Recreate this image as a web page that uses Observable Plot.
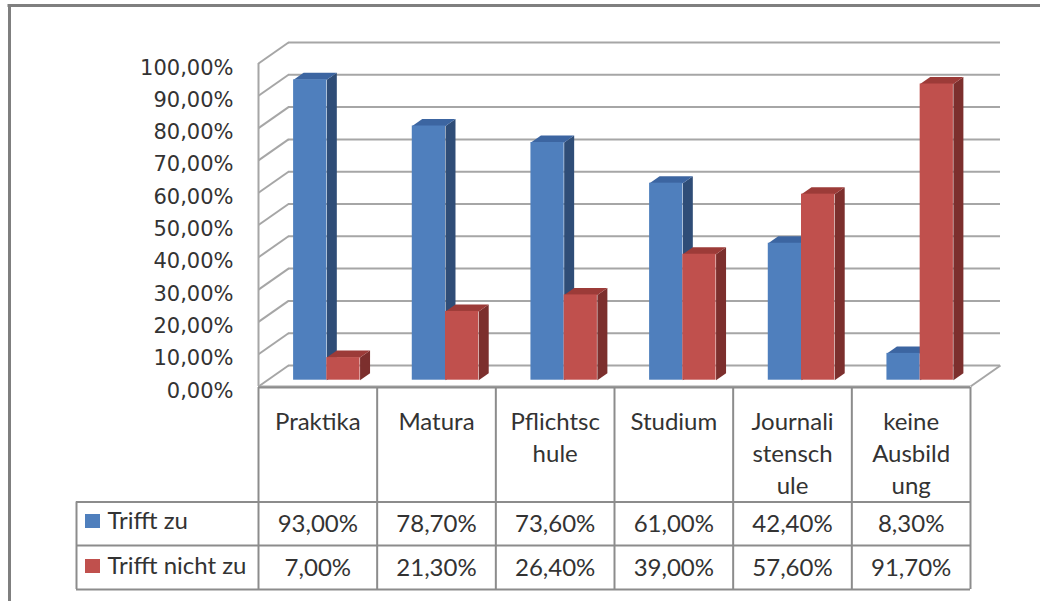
<!DOCTYPE html>
<html>
<head>
<meta charset="utf-8">
<script src="https://cdn.jsdelivr.net/npm/d3@7"></script>
<script src="https://cdn.jsdelivr.net/npm/@observablehq/plot@0.6"></script>
<style>
  html, body { margin: 0; padding: 0; background: #fff; }
  #chart svg { display: block; }
</style>
</head>
<body>
<div id="chart"></div>
<script>
// ---- data ----
const categories = ["Praktika", "Matura", "Pflichtschule", "Studium", "Journalistenschule", "keine Ausbildung"];
const categoryLabels = [["Praktika"], ["Matura"], ["Pflichtsc", "hule"], ["Studium"], ["Journali", "stensch", "ule"], ["keine", "Ausbild", "ung"]];
const seriesNames = ["Trifft zu", "Trifft nicht zu"];
const trifftZu = [93.0, 78.7, 73.6, 61.0, 42.4, 8.3];
const trifftNichtZu = [7.0, 21.3, 26.4, 39.0, 57.6, 91.7];
const yTicks = [0, 10, 20, 30, 40, 50, 60, 70, 80, 90, 100];

// ---- layout ----
const W = 1040, H = 601;
const frontX0 = 258, frontX1 = 970, frontY0 = 386, frontY100 = 63;
const pxPerCat = (frontX1 - frontX0) / categories.length;
const pxPerPct = (frontY0 - frontY100) / 100;
const px2x = px => (px - frontX0) / pxPerCat;
const px2y = px => (frontY0 - px) / pxPerPct;
const DX = 30 / pxPerCat;     // full depth, data units
const DY = 21 / pxPerPct;
const fFront = 0.3, fBack = 0.633; // bar depth planes
const slots = [[0.22, 0.50], [0.50, 0.78]];
const colors = [
  {front: "#4f7fbd", top: "#3c65a1", side: "#2f4d77"},
  {front: "#c0504d", top: "#9c3b38", side: "#7c2f2d"}
];
const fmt = v => v.toFixed(2).replace(".", ",") + "%";
const gridColor = "#a6a6a6";
const tableColor = "#8c8c8c";
const textColor = "#333333";

const series = [trifftZu, trifftNichtZu];

function barRows(s) {
  return series[s].map((v, i) => ({i, v, xl: i + slots[s][0], xr: i + slots[s][1]}));
}
function sidePolys(s) {
  const out = [];
  barRows(s).forEach(b => {
    const id = b.i;
    out.push({id, x: b.xr + fFront * DX, y: fFront * DY});
    out.push({id, x: b.xr + fFront * DX, y: b.v + fFront * DY});
    out.push({id, x: b.xr + fBack * DX, y: b.v + fBack * DY});
    out.push({id, x: b.xr + fBack * DX, y: fBack * DY});
  });
  return out;
}
function topPolys(s) {
  const out = [];
  barRows(s).forEach(b => {
    const id = b.i;
    out.push({id, x: b.xl + fFront * DX, y: b.v + fFront * DY});
    out.push({id, x: b.xr + fFront * DX, y: b.v + fFront * DY});
    out.push({id, x: b.xr + fBack * DX, y: b.v + fBack * DY});
    out.push({id, x: b.xl + fBack * DX, y: b.v + fBack * DY});
  });
  return out;
}

const barMarks = [];
[0, 1].forEach(s => {
  barMarks.push(Plot.line(sidePolys(s), {x: "x", y: "y", z: "id", fill: colors[s].side, stroke: "none", curve: "linear-closed"}));
  barMarks.push(Plot.line(topPolys(s), {x: "x", y: "y", z: "id", fill: colors[s].top, stroke: "none", curve: "linear-closed"}));
  barMarks.push(Plot.rect(barRows(s), {
    x1: d => d.xl + fFront * DX, x2: d => d.xr + fFront * DX,
    y1: fFront * DY, y2: d => d.v + fFront * DY,
    fill: colors[s].front, inset: 0
  }));
});

// header lines
const headerRows = [];
categoryLabels.forEach((lines, i) => lines.forEach((t, k) => headerRows.push({i, k, t})));

const valueRows = [];
series.forEach((arr, s) => arr.forEach((v, i) => valueRows.push({i, s, t: fmt(v)})));

const rowLines = [501.5, 545, 589];
const colBounds = d3.range(categories.length + 1);

const tableFont = "Lato, 'Open Sans', sans-serif";
const tableSize = 24;

const plot = Plot.plot({
  width: W, height: H,
  margin: 0,
  style: {background: "#fff", overflow: "visible"},
  x: {type: "linear", domain: [0, categories.length], range: [frontX0, frontX1], axis: null},
  y: {type: "linear", domain: [0, 100], range: [frontY0, frontY100], axis: null},
  marks: [
    // outer frame (top + left)
    Plot.ruleY([px2y(5)], {x1: px2x(7.5), x2: px2x(W + 5), stroke: "#7f7f7f", strokeWidth: 3}),
    Plot.ruleX([px2x(9)], {y1: px2y(4), y2: px2y(H + 5), stroke: "#7f7f7f", strokeWidth: 3}),
    // back wall gridlines
    Plot.ruleY(yTicks, {y: d => d + DY, x1: DX, x2: categories.length + DX, stroke: gridColor, strokeWidth: 2}),
    // side wall diagonals
    Plot.link(yTicks, {x1: 0, y1: d => d, x2: DX, y2: d => d + DY, stroke: gridColor, strokeWidth: 2}),
    // side wall front edge
    Plot.ruleX([0], {y1: 0, y2: 100, stroke: gridColor, strokeWidth: 2}),
    // floor front edge + right edge
    Plot.ruleY([0], {x1: 0, x2: categories.length, stroke: gridColor, strokeWidth: 2}),
    Plot.link([0], {x1: categories.length, y1: 0, x2: categories.length + DX, y2: DY, stroke: gridColor, strokeWidth: 2}),
    // bars
    ...barMarks,
    // y axis labels
    Plot.text(yTicks, {
      x: px2x(233), y: d => d, dy: 11, text: d => fmt(d), textAnchor: "end", lineAnchor: "bottom",
      fontSize: 21, fontFamily: "'DejaVu Sans', sans-serif", fill: textColor
    }),
    // table grid
    Plot.ruleY([px2y(387)], {x1: 0, x2: categories.length, stroke: tableColor, strokeWidth: 2}),
    Plot.ruleY(rowLines, {y: d => px2y(d), x1: px2x(76), x2: categories.length, stroke: tableColor, strokeWidth: 2}),
    Plot.ruleX(colBounds, {x: d => d, y1: px2y(387), y2: px2y(589), stroke: tableColor, strokeWidth: 2}),
    Plot.ruleX([px2x(76)], {y1: px2y(501.5), y2: px2y(589), stroke: tableColor, strokeWidth: 2}),
    // header text
    Plot.text(headerRows, {
      x: d => d.i + 0.5, y: d => px2y(429 + d.k * 32), text: "t", lineAnchor: "bottom",
      fontSize: tableSize, fontFamily: tableFont, fill: textColor
    }),
    // values text
    Plot.text(valueRows, {
      x: d => d.i + 0.5, y: d => px2y(d.s === 0 ? 531 : 575), text: "t", lineAnchor: "bottom",
      fontSize: tableSize, fontFamily: tableFont, fill: textColor
    }),
    // legend keys
    Plot.rect(seriesNames, {
      x1: px2x(85), x2: px2x(100),
      y1: (d, i) => px2y(i === 0 ? 528 : 573), y2: (d, i) => px2y(i === 0 ? 514 : 559),
      fill: (d, i) => colors[i].front
    }),
    Plot.text(seriesNames, {
      x: px2x(107), y: (d, i) => px2y(i === 0 ? 528 : 573), text: d => d, textAnchor: "start", lineAnchor: "bottom",
      fontSize: tableSize, fontFamily: tableFont, fill: textColor
    })
  ]
});
document.getElementById("chart").appendChild(plot);
</script>
</body>
</html>
